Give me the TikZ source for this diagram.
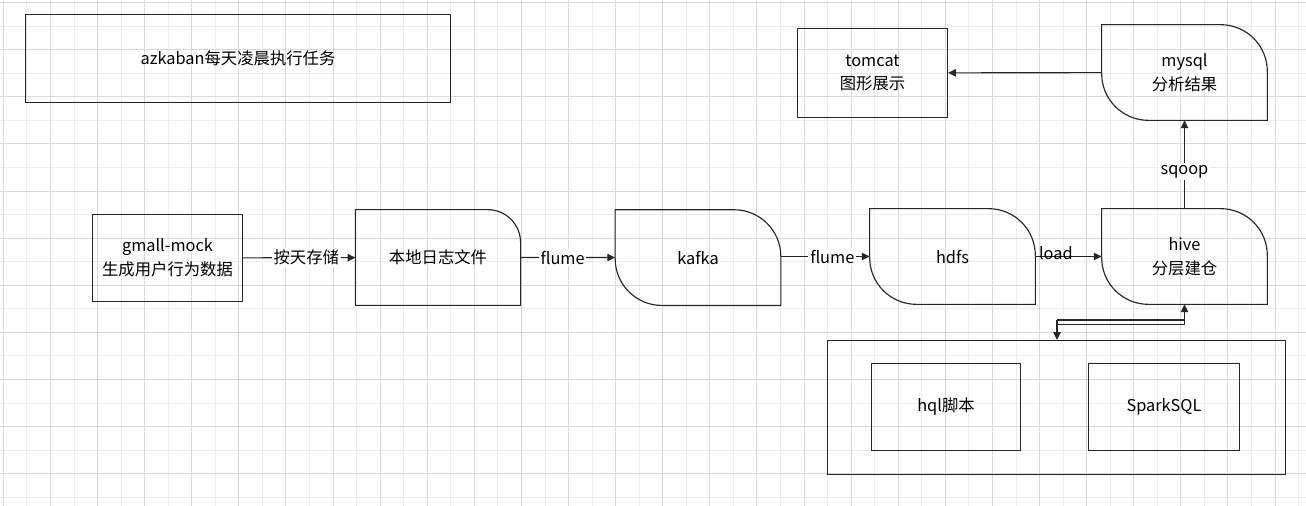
\documentclass[tikz,border=0pt]{standalone}
\usepackage{fontspec}
\setmainfont{Noto Sans CJK SC}
\usetikzlibrary{arrows.meta,calc,positioning}

\begin{document}
\begin{tikzpicture}[x=0.02cm,y=-0.02cm,
    font=\fontsize{9.3}{13.5}\selectfont,
    line/.style={draw=black!85, line width=0.65pt},
    box/.style={line, rectangle, inner sep=0pt, align=center},
    store/.style={rectangle, inner sep=0pt, align=center, minimum width=3.3cm, minimum height=1.9cm},
    arr/.style={line, -{Triangle[length=4.5pt,width=4.2pt]}},
    lbl/.style={fill=white, inner sep=1pt},
    gridmin/.style={draw=black!7, line width=0.5pt},
    gridmaj/.style={draw=black!15, line width=0.5pt}]

        % background grid
        \fill[white] (0,0) rectangle (1306,506);
        \useasboundingbox (0,0) rectangle (1306,506);
        \foreach \i in {0,...,27} \draw[gridmin] ({26.9+47.1*\i},0) -- ({26.9+47.1*\i},506);
        \foreach \i in {0,...,10} \draw[gridmin] (0,{26.2+47.1*\i}) -- (1306,{26.2+47.1*\i});
        \foreach \i in {0,...,27} \draw[gridmaj] ({3.3+47.1*\i},0) -- ({3.3+47.1*\i},506);
        \foreach \i in {0,...,10} \draw[gridmaj] (0,{2.6+47.1*\i}) -- (1306,{2.6+47.1*\i});

        % scheduler
        \node[box, minimum width=8.5cm, minimum height=1.76cm] (azk) at (238,58.5) {azkaban每天凌晨执行任务};

        % source
        \node[box, minimum width=3cm, minimum height=1.74cm] (mock) at (167.5,258) {gmall-mock\\生成用户行为数据};
        \node[store, minimum width=3.29cm] (logf) at (438,257.5) {本地日志文件};
        \draw[line] (logf.north west) -- ([xshift=-18.7pt]logf.north east)
            arc[start angle=90, end angle=0, radius=18.7pt] -- (logf.south east) -- (logf.south west) -- cycle;

        % stores
        \node[store] (kafka) at (698,257.6) {kafka};
        \node[store] (hdfs) at (952.5,256.5) {hdfs};
        \node[store] (hive) at (1184.5,256.5) {hive\\分层建仓};
        \node[store] (mysql) at (1184.5,72.5) {mysql\\分析结果};
        \foreach \n in {kafka,hdfs,hive,mysql}
          \draw[line] (\n.north west) -- ([xshift=-26.6pt]\n.north east)
              arc[start angle=90, end angle=0, radius=26.6pt] -- (\n.south east)
              -- ([xshift=26.6pt]\n.south west) arc[start angle=270, end angle=180, radius=26.6pt] -- cycle;

        % web
        \node[box, minimum width=3cm, minimum height=1.78cm] (tomcat) at (872.5,73) {tomcat\\图形展示};

        % engines
        \node[box, minimum width=9.16cm, minimum height=2.68cm] (eng) at (1056.5,407.5) {};
        \node[box, minimum width=2.98cm, minimum height=1.74cm] (hql) at (946,407) {hql脚本};
        \node[box, minimum width=3.02cm, minimum height=1.74cm] (spark) at (1164,407) {SparkSQL};

        % flow
        \draw[arr] (mock) -- node[lbl, xshift=4pt] {按天存储} (logf);
        \draw[arr] (logf) -- node[lbl, xshift=-3pt] {flume} (kafka);
        \draw[arr] (kafka.east |- hdfs) -- node[lbl, xshift=4pt] {flume} (hdfs);
        \draw[arr] (hdfs) -- node[pos=0.31, yshift=2pt, inner sep=0pt] {load} (hive);
        \draw[arr] (hive) -- node[lbl, yshift=-4pt] {sqoop} (mysql);
        \draw[arr] (mysql) -- (tomcat);

        % link hive <-> engines
        \coordinate (lkL) at (1057,320);
        \coordinate (lkR) at ($(hive.south)+(0,20)$);
        \draw[arr] (lkL) -- (lkL |- eng.north);
        \draw[line] (lkL) -- (lkL -| lkR);
        \draw[line] (lkL |- lkR) -- (lkR);
        \draw[arr] (lkR) -- (hive.south);

\end{tikzpicture}
\end{document}
